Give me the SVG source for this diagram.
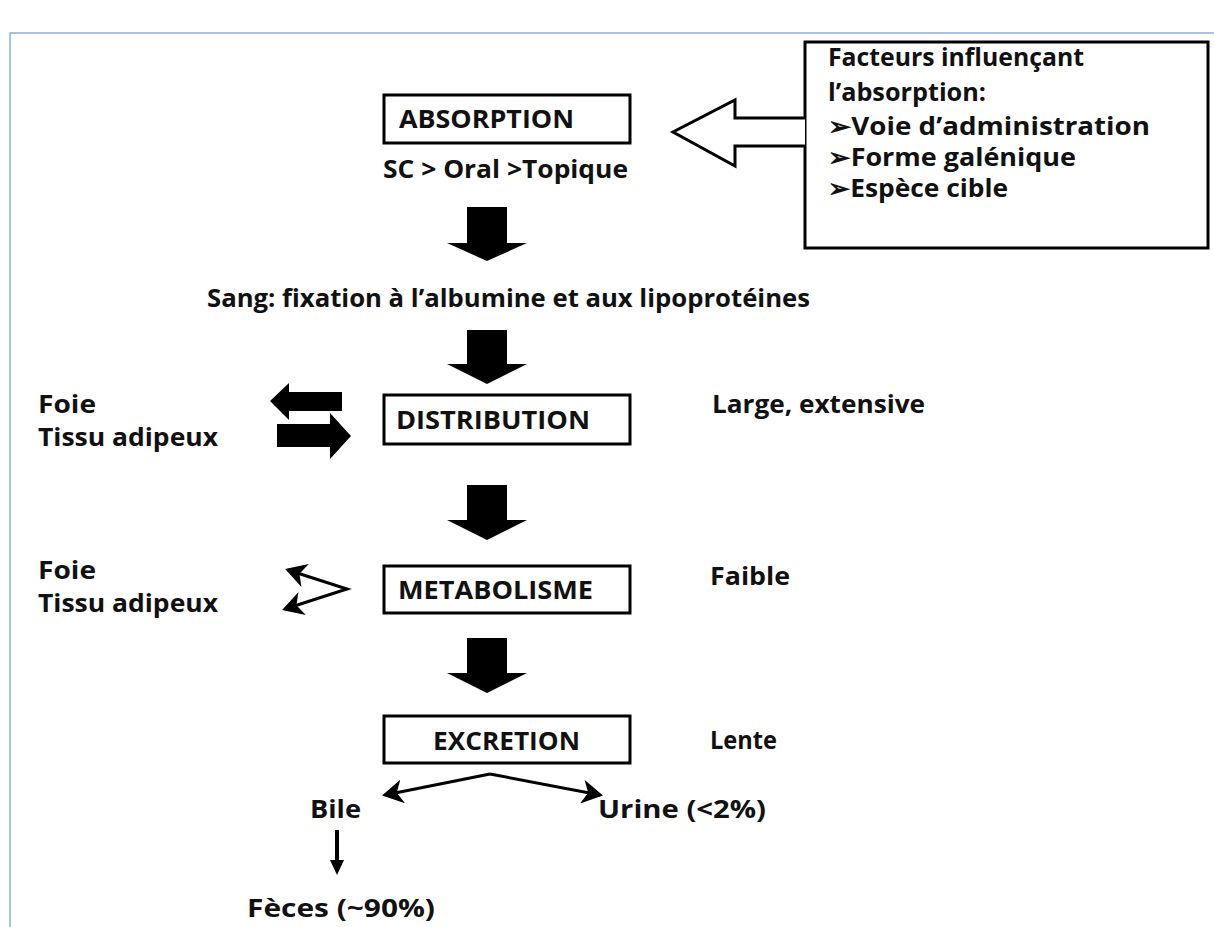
<svg xmlns="http://www.w3.org/2000/svg" width="1214" height="927" viewBox="0 0 1214 927">
<style>
text{font-family:"Open Sans","Liberation Sans",sans-serif;font-weight:bold;fill:#111;font-size:25px}
.box{fill:#fff;stroke:#000;stroke-width:3}
.blk{fill:#000}
.thin{fill:none;stroke:#000;stroke-width:3}
</style>
<defs>
<marker id="ah" markerWidth="8" markerHeight="8" refX="6" refY="4" orient="auto-start-reverse" markerUnits="strokeWidth"><path d="M0,0 L7,4 L0,8 L2,4 Z" fill="#000"/></marker>
</defs>
<rect width="1214" height="927" fill="#fff"/>
<path d="M10,927 V33 H1214" fill="none" stroke="#8aaedc" stroke-width="1.5"/>

<g id="factors">
<rect class="box" x="805" y="42" width="403" height="206"/>
<text x="828" y="66" textLength="256" lengthAdjust="spacingAndGlyphs">Facteurs influençant</text>
<text x="828" y="101" textLength="158" lengthAdjust="spacingAndGlyphs">l’absorption:</text>
<text x="828" y="135" textLength="322" lengthAdjust="spacingAndGlyphs">➢Voie d’administration</text>
<text x="828" y="166" textLength="248" lengthAdjust="spacingAndGlyphs">➢Forme galénique</text>
<text x="828" y="197" textLength="180" lengthAdjust="spacingAndGlyphs">➢Espèce cible</text>
</g>

<g id="connectors">
<path d="M805,118 H735 V100 L673,132 L735,166 V146 H805" fill="#fff" stroke="#000" stroke-width="3" stroke-linejoin="miter"/>
<path class="blk" d="M467,207 H507 V243 H527 L487,261 L447,243 H467 Z"/>
<path class="blk" d="M467,330 H507 V364 H527 L487,384 L447,364 H467 Z"/>
<path class="blk" d="M467,485 H507 V520 H527 L487,540 L447,520 H467 Z"/>
<path class="blk" d="M467,638 H507 V673 H527 L487,693 L447,673 H467 Z"/>
<path class="blk" d="M342,392 V411 H289 V420 L270,401 L289,383 V392 Z"/>
<path class="blk" d="M277,424 H330 V413 L351,436 L330,459 V447 H277 Z"/>
<path class="thin" d="M288,570 L347,589 L285,609" marker-start="url(#ah)" marker-end="url(#ah)"/>
<path class="thin" d="M490,774 L385,795" marker-end="url(#ah)"/>
<path class="thin" d="M490,774 L600,795" marker-end="url(#ah)"/>
<path d="M337,830 V862" stroke="#000" stroke-width="4" fill="none"/>
<path class="blk" d="M330,860 H344 L337,875 Z"/>
</g>

<g id="absorption">
<rect class="box" x="384" y="95" width="246" height="48"/>
<text x="399" y="128" textLength="175" lengthAdjust="spacingAndGlyphs">ABSORPTION</text>
<text x="383" y="178" textLength="245" lengthAdjust="spacingAndGlyphs">SC &gt; Oral &gt;Topique</text>
</g>
<g id="sang">
<text x="207" y="307" textLength="603" lengthAdjust="spacingAndGlyphs">Sang:  fixation à l’albumine et aux lipoprotéines</text>
</g>
<g id="distribution">
<rect class="box" x="384" y="395" width="246" height="49"/>
<text x="396" y="429" textLength="194" lengthAdjust="spacingAndGlyphs">DISTRIBUTION</text>
<text x="712" y="413" textLength="213" lengthAdjust="spacingAndGlyphs">Large, extensive</text>
<text x="38" y="413" textLength="58" lengthAdjust="spacingAndGlyphs">Foie</text>
<text x="38" y="446" textLength="180" lengthAdjust="spacingAndGlyphs">Tissu adipeux</text>
</g>
<g id="metabolisme">
<rect class="box" x="384" y="566" width="246" height="47"/>
<text x="398" y="599" textLength="195" lengthAdjust="spacingAndGlyphs">METABOLISME</text>
<text x="710" y="585" textLength="80" lengthAdjust="spacingAndGlyphs">Faible</text>
<text x="38" y="579" textLength="58" lengthAdjust="spacingAndGlyphs">Foie</text>
<text x="38" y="612" textLength="180" lengthAdjust="spacingAndGlyphs">Tissu adipeux</text>
</g>
<g id="excretion">
<rect class="box" x="384" y="716" width="246" height="47"/>
<text x="433" y="750" textLength="147" lengthAdjust="spacingAndGlyphs">EXCRETION</text>
<text x="710" y="749" textLength="67" lengthAdjust="spacingAndGlyphs">Lente</text>
</g>
<g id="bile"><text x="310" y="818" textLength="51" lengthAdjust="spacingAndGlyphs">Bile</text></g>
<g id="urine"><text x="598" y="818" textLength="168" lengthAdjust="spacingAndGlyphs">Urine (&lt;2%)</text></g>
<g id="feces"><text x="247" y="917" textLength="188" lengthAdjust="spacingAndGlyphs">Fèces (~90%)</text></g>
</svg>
